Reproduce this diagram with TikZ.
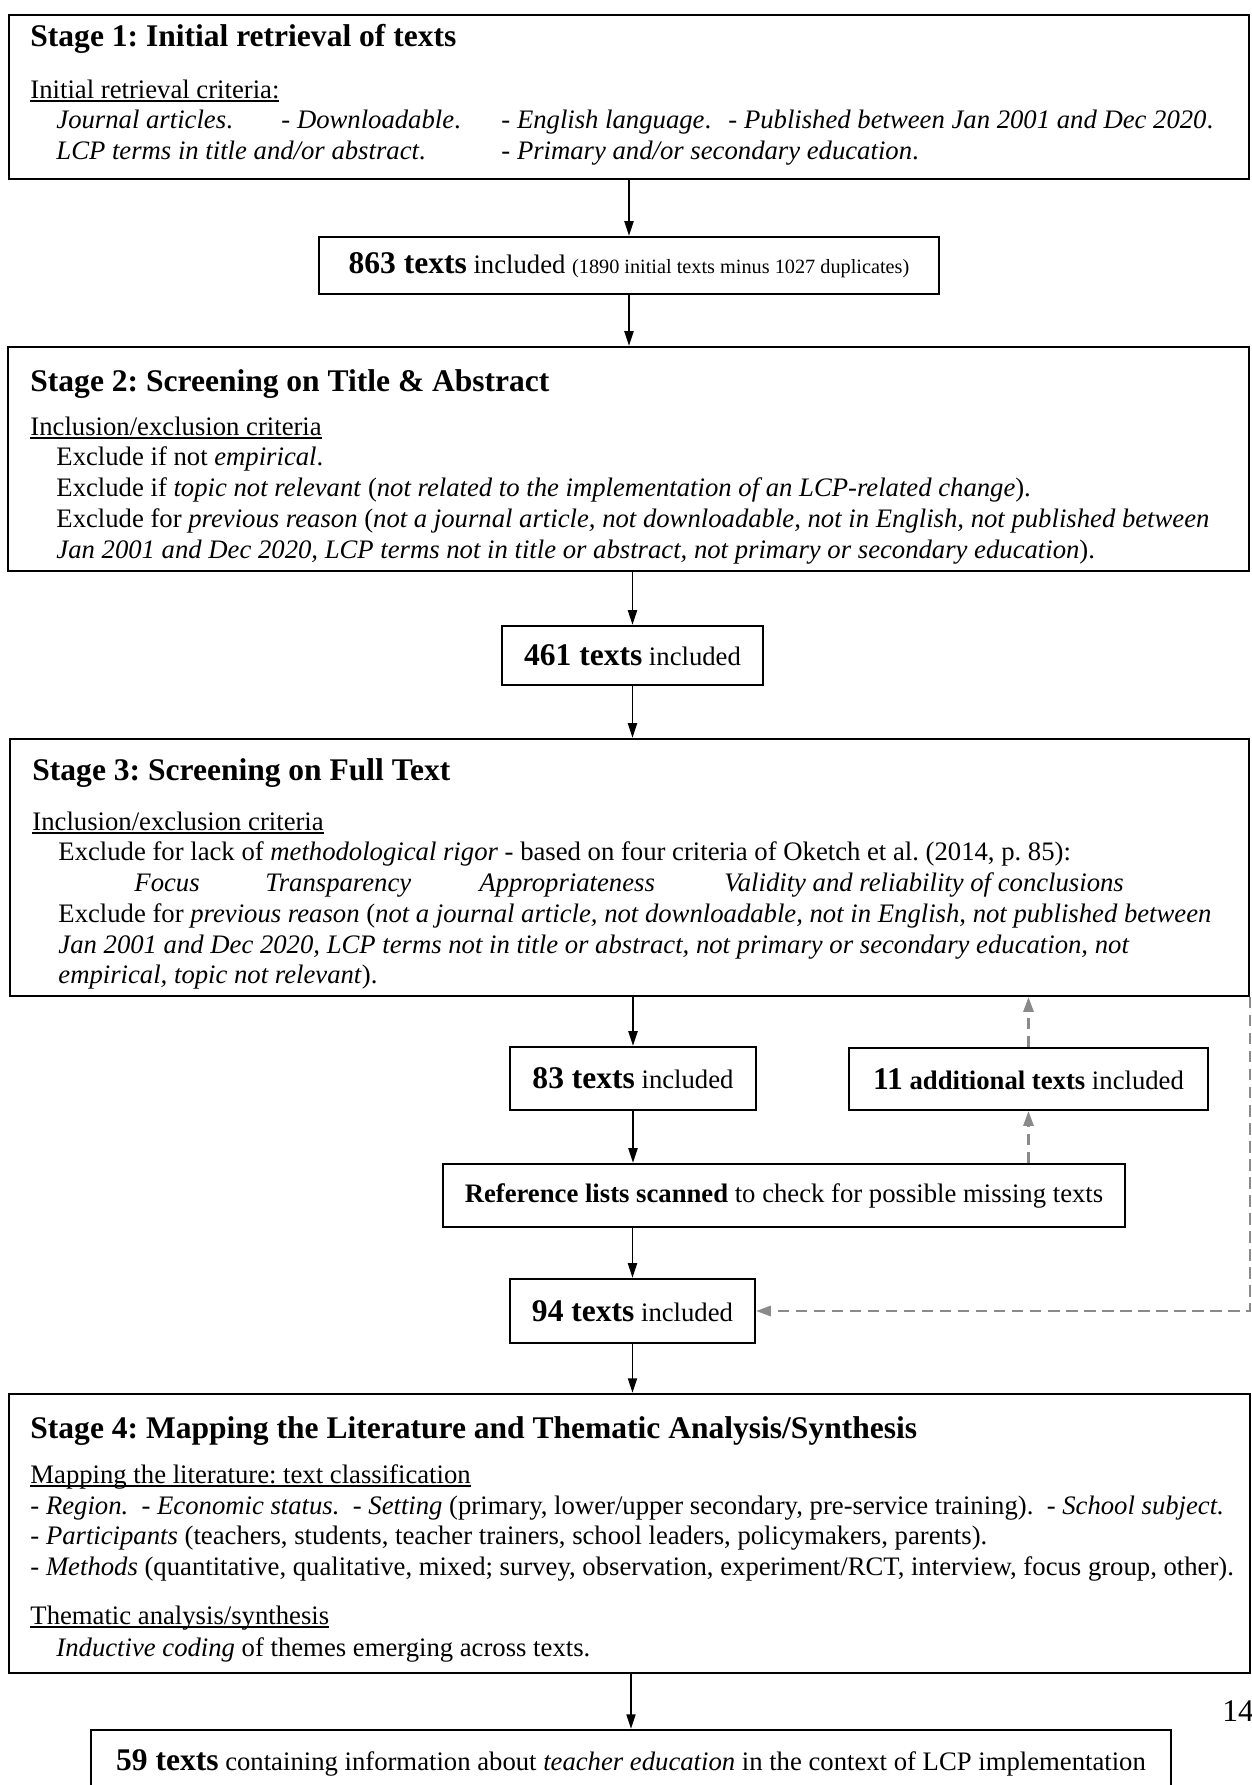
\documentclass[tikz,border=0pt]{standalone}
\usepackage{fontspec}
\setmainfont{Liberation Serif}
\usepackage{xcolor}
\usetikzlibrary{fit,arrows.meta}
\definecolor{ink}{HTML}{000000}
\definecolor{loop}{HTML}{8A8A8A}
\newcommand{\bodyfont}{\fontsize{11.85}{14}\selectfont}
\newcommand{\bigfont}{\fontsize{14}{16}\selectfont}
\newcommand{\tinyfont}{\fontsize{9}{11}\selectfont}
\newsavebox{\ulbox}
\newcommand{\ulined}[1]{\sbox{\ulbox}{#1}\rlap{\rule[-1.6pt]{\wd\ulbox}{0.5pt}}\usebox{\ulbox}}
\frenchspacing
\tikzset{
  stagebox/.style={draw=ink, line width=1pt, inner sep=0pt},
  countbox/.style={draw=ink, line width=1pt, inner sep=0pt},
  counttext/.style={font=\bodyfont},
  head/.style={anchor=base west, inner sep=0pt, font=\bigfont\bfseries},
  line/.style={anchor=base west, inner sep=0pt, font=\bodyfont},
  arr/.style={draw=ink, line width=0.8pt, -{Triangle[length=6.5pt,width=4pt]}},
  backarr/.style={draw=loop, line width=1pt, dash pattern=on 5pt off 3pt, -{Triangle[length=6.5pt,width=4.5pt]}},
}

\begin{document}
\begin{tikzpicture}[x=0.444pt,y=-0.444pt]
  \useasboundingbox (0,0) rectangle (1251,1785);
  \clip (0,0) rectangle (1251,1785);

  \node[stagebox, fit={(9,15) (1249,179)}] (s1) {};
  \node[head] at (30,46) {Stage 1: Initial retrieval of texts};
  \node[line] at (30,98) {\ulined{Initial retrieval criteria:}};
  \node[line] at (56,128) {\textit{Journal articles}.};
  \node[line] at (281,128) {- \textit{Downloadable}.};
  \node[line] at (501,128) {- \textit{English language}.};
  \node[line] at (728,128) {- \textit{Published between Jan 2001 and Dec 2020}.};
  \node[line] at (56,159) {\textit{LCP terms in title and/or abstract}.};
  \node[line] at (501,159) {- \textit{Primary and/or secondary education}.};

  \node[countbox, fit={(319,237) (939,294)}] (n863) {};
  \node[counttext] at (n863.center) {{\bigfont\bfseries 863 texts} included {\tinyfont(1890 initial texts minus 1027 duplicates)}};

  \node[stagebox, fit={(8,347) (1249,571)}] (s2) {};
  \node[head] at (30,391) {Stage 2: Screening on Title \& Abstract};
  \node[line] at (30,435) {\ulined{Inclusion/exclusion criteria}};
  \node[line] at (56,465) {Exclude if not \textit{empirical}.};
  \node[line] at (56,496) {Exclude if \textit{topic not relevant} (\textit{not related to the implementation of an LCP-related change}).};
  \node[line] at (56,527) {Exclude for \textit{previous reason} (\textit{not a journal article, not downloadable, not in English, not published between}};
  \node[line] at (56,558) {\textit{Jan 2001 and Dec 2020, LCP terms not in title or abstract, not primary or secondary education}).};

  \node[countbox, fit={(502,626) (763,685)}] (n461) {};
  \node[counttext] at (n461.center) {{\bigfont\bfseries 461 texts} included};

  \node[stagebox, fit={(10,739) (1249,996)}] (s3) {};
  \node[head] at (32,780) {Stage 3: Screening on Full Text};
  \node[line] at (32,830) {\ulined{Inclusion/exclusion criteria}};
  \node[line] at (58,860) {Exclude for lack of \textit{methodological rigor} - based on four criteria of Oketch et al. (2014, p. 85):};
  \node[line] at (134,891) {\textit{Focus}};
  \node[line] at (265,891) {\textit{Transparency}};
  \node[line] at (479,891) {\textit{Appropriateness}};
  \node[line] at (724,891) {\textit{Validity and reliability of conclusions}};
  \node[line] at (58,922) {Exclude for \textit{previous reason} (\textit{not a journal article, not downloadable, not in English, not published between}};
  \node[line] at (58,953) {\textit{Jan 2001 and Dec 2020, LCP terms not in title or abstract, not primary or secondary education, not}};
  \node[line] at (58,983) {\textit{empirical, topic not relevant}).};

  \node[countbox, fit={(510,1047) (756,1110)}] (n83) {};
  \node[counttext] at (n83.center) {{\bigfont\bfseries 83 texts} included};
  \node[countbox, fit={(849,1048) (1208,1110)}] (n11) {};
  \node[counttext] at (n11.center) {{\bigfont\bfseries 11} \textbf{additional texts} included};
  \node[countbox, fit={(443,1164) (1125,1227)}] (ref) {};
  \node[counttext] at (ref.center) {\textbf{Reference lists scanned} to check for possible missing texts};
  \node[countbox, fit={(510,1279) (755,1343)}] (n94) {};
  \node[counttext] at (n94.center) {{\bigfont\bfseries 94 texts} included};

  \node[stagebox, fit={(9,1394) (1250,1673)}] (s4) {};
  \node[head] at (30,1438) {Stage 4: Mapping the Literature and Thematic Analysis/Synthesis};
  \node[line] at (30,1483) {\ulined{Mapping the literature: text classification}};
  \node[line] at (30,1514) {- \textit{Region.}\ \ - \textit{Economic status.}\ \ - \textit{Setting} (primary, lower/upper secondary, pre-service training).\ \ - \textit{School subject.}};
  \node[line] at (30,1544) {- \textit{Participants} (teachers, students, teacher trainers, school leaders, policymakers, parents).};
  \node[line] at (30,1575) {- \textit{Methods} (quantitative, qualitative, mixed; survey, observation, experiment/RCT, interview, focus group, other).};
  \node[line] at (30,1624) {\ulined{Thematic analysis/synthesis}};
  \node[line] at (56,1656) {\textit{Inductive coding} of themes emerging across texts.};

  \node[countbox, fit={(91,1730) (1171,1795)}] (n59) {};
  \node[counttext] at (n59.center) {{\bigfont\bfseries 59 texts} containing information about \textit{teacher education} in the context of LCP implementation};
  \node[line, font=\bigfont] (page) at (1222,1721) {14};

  \draw[arr] (n863.north |- s1.south) -- (n863.north);
  \draw[arr] (n863.south) -- (n863.south |- s2.north);
  \draw[arr] (n461.north |- s2.south) -- (n461.north);
  \draw[arr] (n461.south) -- (n461.south |- s3.north);
  \draw[arr] (n83.north |- s3.south) -- (n83.north);
  \draw[arr] (n83.south) -- (n83.south |- ref.north);
  \draw[arr] (n94.north |- ref.south) -- (n94.north);
  \draw[arr] (n94.south) -- (n94.south |- s4.north);
  \draw[arr] (n59.north |- s4.south) -- (n59.north);

  \draw[backarr] (n11.south |- ref.north) -- (n11.south);
  \draw[backarr] (n11.north) -- (n11.north |- s3.south);
  \draw[backarr] (s3.south east) |- (n94.east);
\end{tikzpicture}
\end{document}
